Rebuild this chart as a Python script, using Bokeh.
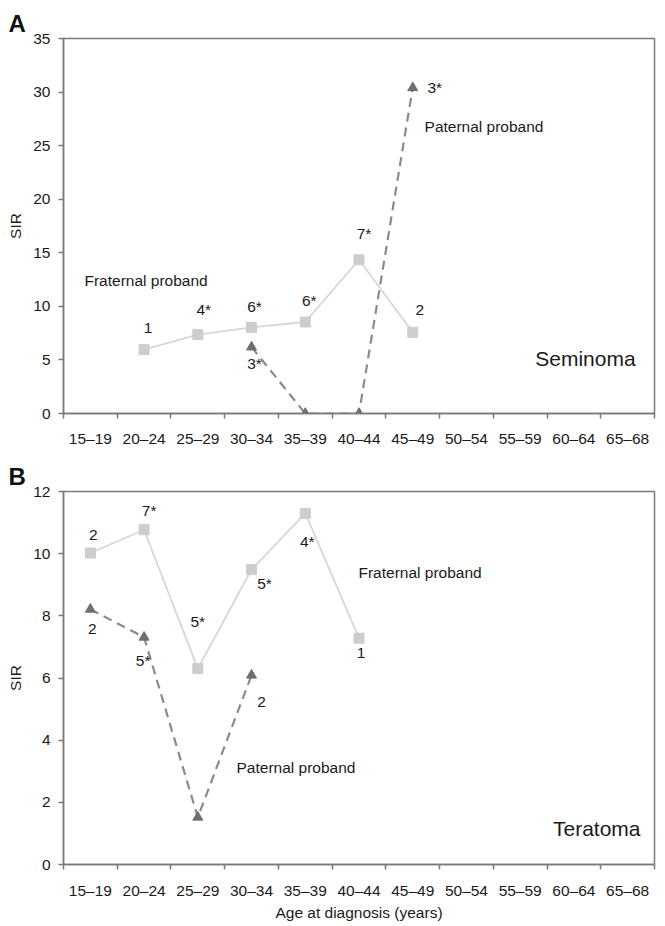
from bokeh.plotting import figure
from bokeh.models import Range1d, FixedTicker, ColumnDataSource
from bokeh.layouts import column
from bokeh.core.properties import value
from bokeh.embed import file_html
from bokeh.resources import INLINE

FONT = "Liberation Sans"

AGE_GROUPS = ["15–19", "20–24", "25–29", "30–34", "35–39", "40–44",
              "45–49", "50–54", "55–59", "60–64", "65–68"]

# Panel A – Seminoma
A_Y_TICKS = [0, 5, 10, 15, 20, 25, 30, 35]
A_FRAT_CATS = ["20–24", "25–29", "30–34", "35–39", "40–44", "45–49"]
A_FRAT_SIR = [5.96, 7.36, 8.04, 8.54, 14.35, 7.58]
A_PAT_CATS = ["30–34", "35–39", "40–44", "45–49"]
A_PAT_SIR = [6.2, 0.0, 0.0, 30.4]
A_NOTE_TEXT = ["1", "4*", "6*", "6*", "7*", "2", "3*", "3*"]
A_NOTE_CATS = ["20–24", "25–29", "30–34", "35–39", "40–44", "45–49", "30–34", "45–49"]
A_NOTE_Y = [8.0, 9.7, 10.0, 10.56, 16.8, 9.7, 4.66, 30.4]
A_NOTE_DX = [4, 6, 3, 4, 5, 7, 3, 22]
A_SERIES_TEXT = ["Fraternal proband", "Paternal proband"]
A_SERIES_X = [0.39, 6.72]
A_SERIES_Y = [12.4, 26.8]
A_TYPE = ("Seminoma", 8.78, 5.12)

# Panel B – Teratoma
B_Y_TICKS = [0, 2, 4, 6, 8, 10, 12]
B_FRAT_CATS = ["15–19", "20–24", "25–29", "30–34", "35–39", "40–44"]
B_FRAT_SIR = [10.02, 10.77, 6.30, 9.49, 11.30, 7.28]
B_PAT_CATS = ["15–19", "20–24", "25–29", "30–34"]
B_PAT_SIR = [8.21, 7.31, 1.52, 6.09]
B_NOTE_TEXT = ["2", "7*", "5*", "5*", "4*", "1", "2", "5*", "2"]
B_NOTE_CATS = ["15–19", "20–24", "25–29", "30–34", "35–39", "40–44", "15–19", "20–24", "30–34"]
B_NOTE_Y = [10.6, 11.4, 7.81, 9.04, 10.39, 6.8, 7.57, 6.56, 5.23]
B_NOTE_DX = [3, 5, 0, 13, 2, 2, 2, -1, 10]
B_SERIES_TEXT = ["Fraternal proband", "Paternal proband"]
B_SERIES_X = [5.49, 3.22]
B_SERIES_Y = [9.4, 3.12]
B_TYPE = ("Teratoma", 9.11, 1.15)


def xpos(cats):
    return [AGE_GROUPS.index(c) + 0.5 for c in cats]


def make_panel(letter, ymax, yticks, frat_cats, frat_sir, pat_cats, pat_sir,
               note_text, note_cats, note_y, note_dx, s_text, s_x, s_y, type_info,
               height, top, bottom, label_standoff, show_xlabel):
    p = figure(width=657, height=height, output_backend="svg", toolbar_location=None,
               x_range=Range1d(0, len(AGE_GROUPS)), y_range=Range1d(0, ymax),
               min_border_left=63, min_border_right=3, min_border_top=top,
               min_border_bottom=bottom, title=letter)
    p.title.text_font = FONT
    p.title.text_font_size = "24px"
    p.title.text_font_style = "bold"
    p.title.text_color = "#111111"
    p.title.align = "left"
    p.title.offset = -55
    p.title.standoff = 4
    p.background_fill_color = "white"
    p.border_fill_color = "white"
    p.grid.visible = False
    p.outline_line_color = "#7a7a7a"
    p.outline_line_width = 1.5

    centers = [i + 0.5 for i in range(len(AGE_GROUPS))]
    bounds = list(range(len(AGE_GROUPS) + 1))
    xa = p.xaxis[0]
    xa.ticker = FixedTicker(ticks=centers, minor_ticks=bounds)
    xa.major_label_overrides = {c: g for c, g in zip(centers, AGE_GROUPS)}
    xa.major_tick_out = 0
    xa.major_tick_in = 0
    xa.minor_tick_out = 5
    xa.minor_tick_in = 0
    xa.minor_tick_line_color = "#7a7a7a"
    xa.minor_tick_line_width = 1.5
    xa.major_label_standoff = label_standoff
    if show_xlabel:
        xa.axis_label = "Age at diagnosis (years)"
        xa.axis_label_standoff = 2

    ya = p.yaxis[0]
    ya.ticker = FixedTicker(ticks=yticks)
    ya.major_tick_out = 5
    ya.major_tick_in = 0
    ya.minor_tick_line_color = None
    ya.major_label_standoff = 8
    ya.axis_label = "SIR"
    ya.axis_label_standoff = 6

    for ax in (xa, ya):
        ax.axis_line_color = "#7a7a7a"
        ax.axis_line_width = 1.5
        ax.major_tick_line_color = "#7a7a7a"
        ax.major_tick_line_width = 1.5
        ax.major_label_text_font = FONT
        ax.major_label_text_font_size = "15.5px"
        ax.major_label_text_color = "#1a1a1a"
        ax.axis_label_text_font = FONT
        ax.axis_label_text_font_size = "15.5px"
        ax.axis_label_text_font_style = "normal"
        ax.axis_label_text_color = "#1a1a1a"

    # fraternal proband series
    fx = xpos(frat_cats)
    p.line(fx, frat_sir, line_color="#d6d6d6", line_width=1.8)
    p.scatter(fx, frat_sir, marker="square", size=10, fill_color="#cdcdcd",
              line_color="#cdcdcd")

    # paternal proband series
    px = xpos(pat_cats)
    p.line(px, pat_sir, line_color="#8a8a8a", line_width=2.2, line_dash="9 6")
    p.scatter(px, pat_sir, marker="triangle", size=10, fill_color="#6f6f6f",
              line_color="#6f6f6f")

    # n annotations
    src = ColumnDataSource(dict(x=xpos(note_cats), y=note_y, t=note_text, dx=note_dx))
    p.text(x="x", y="y", text="t", x_offset="dx", source=src, text_align="center",
           text_baseline="middle", text_font=value(FONT),
           text_font_size=value("15.5px"), text_color="#1a1a1a")

    ssrc = ColumnDataSource(dict(x=s_x, y=s_y, t=s_text))
    p.text(x="x", y="y", text="t", source=ssrc, text_align="left",
           text_baseline="middle", text_font=value(FONT),
           text_font_size=value("15.5px"), text_color="#1a1a1a")

    tsrc = ColumnDataSource(dict(x=[type_info[1]], y=[type_info[2]], t=[type_info[0]]))
    p.text(x="x", y="y", text="t", source=tsrc, text_align="left",
           text_baseline="middle", text_font=value(FONT),
           text_font_size=value("21px"), text_color="#1a1a1a")
    return p


pA = make_panel("A", 35, A_Y_TICKS, A_FRAT_CATS, A_FRAT_SIR, A_PAT_CATS, A_PAT_SIR,
                A_NOTE_TEXT, A_NOTE_CATS, A_NOTE_Y, A_NOTE_DX,
                A_SERIES_TEXT, A_SERIES_X, A_SERIES_Y, A_TYPE,
                height=458, top=38, bottom=45, label_standoff=11, show_xlabel=False)

pB = make_panel("B", 12, B_Y_TICKS, B_FRAT_CATS, B_FRAT_SIR, B_PAT_CATS, B_PAT_SIR,
                B_NOTE_TEXT, B_NOTE_CATS, B_NOTE_Y, B_NOTE_DX,
                B_SERIES_TEXT, B_SERIES_X, B_SERIES_Y, B_TYPE,
                height=465, top=33, bottom=59, label_standoff=12, show_xlabel=True)

layout = column(pA, pB)
open("out.html", "w").write(file_html(layout, INLINE))
